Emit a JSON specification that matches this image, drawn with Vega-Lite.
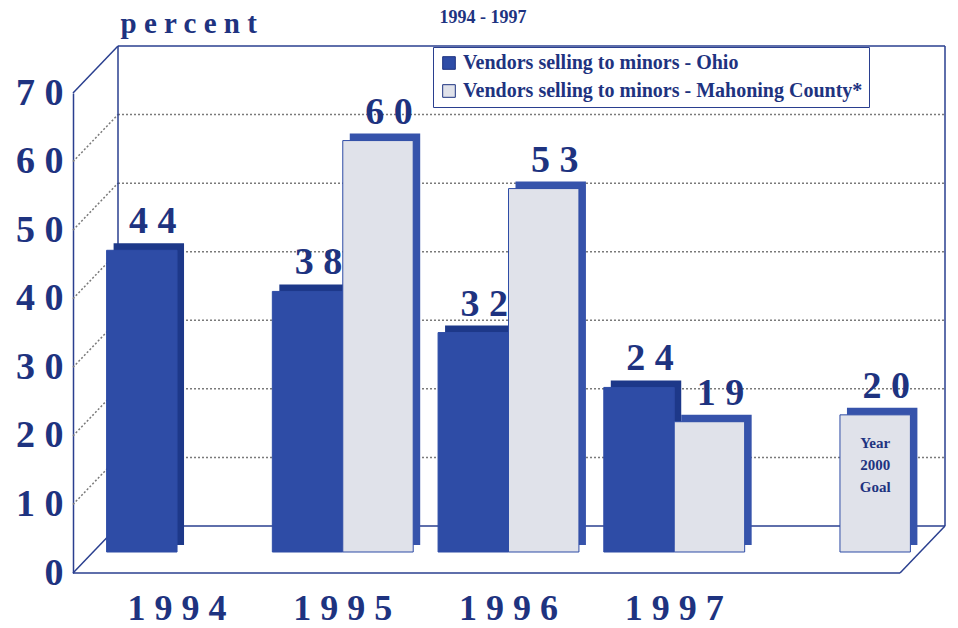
{
  "$schema": "https://vega.github.io/schema/vega-lite/v6.json",
  "width": 827,
  "height": 480,
  "autosize": "none",
  "padding": {"left": 73, "top": 93, "right": 58, "bottom": 55},
  "background": "white",
  "config": {
    "view": {"stroke": null},
    "font": "Liberation Serif"
  },
  "title": {
    "text": "1994 - 1997",
    "anchor": "start",
    "dx": 424,
    "offset": 0,
    "dy": 32,
    "baseline": "alphabetic",
    "font": "Liberation Serif",
    "fontSize": 18,
    "fontWeight": "bold",
    "color": "#1e3380"
  },
  "datasets": {
    "bars": [
      {"year": "1994", "series": "Vendors selling to minors - Ohio", "value": 44},
      {"year": "1995", "series": "Vendors selling to minors - Ohio", "value": 38},
      {"year": "1995", "series": "Vendors selling to minors - Mahoning County*", "value": 60},
      {"year": "1996", "series": "Vendors selling to minors - Ohio", "value": 32},
      {"year": "1996", "series": "Vendors selling to minors - Mahoning County*", "value": 53},
      {"year": "1997", "series": "Vendors selling to minors - Ohio", "value": 24},
      {"year": "1997", "series": "Vendors selling to minors - Mahoning County*", "value": 19},
      {"year": "2000", "series": "Vendors selling to minors - Mahoning County*", "value": 20, "note": "Year 2000 Goal"}
    ],
    "gridlines": [{"v": 10}, {"v": 20}, {"v": 30}, {"v": 40}, {"v": 50}, {"v": 60}],
    "one": [{}]
  },
  "resolve": {"scale": {"x": "independent"}},
  "layer": [
    {
      "data": {"name": "gridlines"},
      "mark": {"type": "rule", "color": "#7a7a7a", "strokeDash": [2, 2], "strokeWidth": 1.5, "xOffset": 45, "x2Offset": 45, "yOffset": -47},
      "encoding": {
        "x": {"datum": 0, "type": "quantitative", "scale": {"domain": [0, 1]}, "axis": null},
        "x2": {"datum": 1},
        "y": {
          "field": "v", "type": "quantitative",
          "scale": {"domain": [0, 70], "nice": false},
          "axis": {
            "title": "p e r c e n t",
            "titleAngle": 0,
            "titleAlign": "left",
            "titleBaseline": "alphabetic",
            "titleX": 47,
            "titleY": -61,
            "titleFont": "Liberation Serif",
            "titleFontWeight": "bold",
            "titleFontSize": 29,
            "titleColor": "#1e3380",
            "values": [0, 10, 20, 30, 40, 50, 60, 70],
            "labelExpr": "join(split(datum.label, ''), ' ')",
            "labelFont": "Liberation Serif",
            "labelFontWeight": "bold",
            "labelFontSize": 38,
            "labelColor": "#1e3380",
            "labelPadding": 10,
            "labelBaseline": "middle",
            "ticks": false,
            "tickSize": 0,
            "domainColor": "#2a3f8f",
            "domainWidth": 1.5,
            "grid": false
          }
        }
      }
    },
    {
      "data": {"name": "gridlines"},
      "mark": {"type": "rule", "color": "#7a7a7a", "strokeDash": [2, 2], "strokeWidth": 1.5, "x2Offset": 45, "y2Offset": -47},
      "encoding": {
        "x": {"datum": 0, "type": "quantitative", "scale": {"domain": [0, 1]}, "axis": null},
        "x2": {"datum": 0},
        "y": {"field": "v", "type": "quantitative"},
        "y2": {"field": "v"}
      }
    },
    {
      "data": {"name": "one"},
      "mark": {"type": "rule", "color": "#2a3f8f", "strokeWidth": 1.5, "xOffset": 45, "x2Offset": 45, "yOffset": -47, "y2Offset": -47},
      "encoding": {
        "x": {"datum": 0, "type": "quantitative", "scale": {"domain": [0, 1]}, "axis": null},
        "x2": {"datum": 0},
        "y": {"datum": 0, "type": "quantitative"},
        "y2": {"datum": 70}
      }
    },
    {
      "data": {"name": "one"},
      "mark": {"type": "rule", "color": "#2a3f8f", "strokeWidth": 1.5, "xOffset": 45, "x2Offset": 45, "yOffset": -47, "y2Offset": -47},
      "encoding": {
        "x": {"datum": 1, "type": "quantitative", "scale": {"domain": [0, 1]}, "axis": null},
        "x2": {"datum": 1},
        "y": {"datum": 0, "type": "quantitative"},
        "y2": {"datum": 70}
      }
    },
    {
      "data": {"name": "one"},
      "mark": {"type": "rule", "color": "#2a3f8f", "strokeWidth": 1.5, "xOffset": 45, "x2Offset": 45, "yOffset": -47, "y2Offset": -47},
      "encoding": {
        "x": {"datum": 0, "type": "quantitative", "scale": {"domain": [0, 1]}, "axis": null},
        "x2": {"datum": 1},
        "y": {"datum": 70, "type": "quantitative"},
        "y2": {"datum": 70}
      }
    },
    {
      "data": {"name": "one"},
      "mark": {"type": "rule", "color": "#2a3f8f", "strokeWidth": 1.5, "xOffset": 45, "x2Offset": 45, "yOffset": -47, "y2Offset": -47},
      "encoding": {
        "x": {"datum": 0, "type": "quantitative", "scale": {"domain": [0, 1]}, "axis": null},
        "x2": {"datum": 1},
        "y": {"datum": 0, "type": "quantitative"},
        "y2": {"datum": 0}
      }
    },
    {
      "data": {"name": "one"},
      "mark": {"type": "rule", "color": "#2a3f8f", "strokeWidth": 1.5, "x2Offset": 45, "y2Offset": -47},
      "encoding": {
        "x": {"datum": 0, "type": "quantitative", "scale": {"domain": [0, 1]}, "axis": null},
        "x2": {"datum": 0},
        "y": {"datum": 70, "type": "quantitative"},
        "y2": {"datum": 70}
      }
    },
    {
      "data": {"name": "one"},
      "mark": {"type": "rule", "color": "#2a3f8f", "strokeWidth": 1.5, "x2Offset": 45, "y2Offset": -47},
      "encoding": {
        "x": {"datum": 0, "type": "quantitative", "scale": {"domain": [0, 1]}, "axis": null},
        "x2": {"datum": 0},
        "y": {"datum": 0, "type": "quantitative"},
        "y2": {"datum": 0}
      }
    },
    {
      "data": {"name": "one"},
      "mark": {"type": "rule", "color": "#2a3f8f", "strokeWidth": 1.5, "x2Offset": 45, "y2Offset": -47},
      "encoding": {
        "x": {"datum": 1, "type": "quantitative", "scale": {"domain": [0, 1]}, "axis": null},
        "x2": {"datum": 1},
        "y": {"datum": 0, "type": "quantitative"},
        "y2": {"datum": 0}
      }
    },
    {
      "data": {"name": "one"},
      "mark": {"type": "rule", "color": "#2a3f8f", "strokeWidth": 1.5},
      "encoding": {
        "x": {"datum": 0, "type": "quantitative", "scale": {"domain": [0, 1]}, "axis": null},
        "x2": {"datum": 1},
        "y": {"datum": 0, "type": "quantitative"},
        "y2": {"datum": 0}
      }
    },
    {
      "data": {"name": "bars"},
      "mark": {"type": "bar", "yOffset": -28, "y2Offset": -28},
      "encoding": {
        "x": {"field": "year", "type": "nominal", "scale": {"domain": ["1994", "1995", "1996", "1997", "2000"], "range": [29, 856], "paddingInner": 0.15, "paddingOuter": 0.07}, "axis": null},
        "xOffset": {"field": "series", "type": "nominal", "scale": {"domain": ["Vendors selling to minors - Ohio", "Vendors selling to minors - Mahoning County*"], "paddingInner": 0, "paddingOuter": 0}},
        "y": {"field": "value", "type": "quantitative"},
        "fill": {"condition": {"test": "datum.series == 'Vendors selling to minors - Ohio'", "value": "#1d3889"}, "value": "#3653ab"}
      }
    },
    {
      "data": {"name": "bars"},
      "mark": {"type": "bar", "yOffset": -21, "y2Offset": -21, "stroke": "#2e4ca6", "strokeWidth": 1},
      "encoding": {
        "x": {
          "field": "year", "type": "nominal",
          "scale": {"domain": ["1994", "1995", "1996", "1997", "2000"], "range": [22, 849], "paddingInner": 0.15, "paddingOuter": 0.07},
          "axis": {
            "title": null,
            "labelExpr": "datum.label == '2000' ? '' : join(split(datum.label, ''), ' ')",
            "labelAngle": 0,
            "labelFont": "Liberation Serif",
            "labelFontWeight": "bold",
            "labelFontSize": 36,
            "labelColor": "#1e3380",
            "labelBaseline": "alphabetic",
            "labelPadding": 46,
            "ticks": false,
            "tickSize": 0,
            "domain": false,
            "grid": false
          }
        },
        "xOffset": {"field": "series", "type": "nominal", "scale": {"domain": ["Vendors selling to minors - Ohio", "Vendors selling to minors - Mahoning County*"], "paddingInner": 0, "paddingOuter": 0}},
        "y": {"field": "value", "type": "quantitative"},
        "color": {
          "field": "series", "type": "nominal",
          "scale": {"domain": ["Vendors selling to minors - Ohio", "Vendors selling to minors - Mahoning County*"], "range": ["#2e4ca6", "#e0e2ea"]},
          "legend": {
            "title": null,
            "orient": "none",
            "legendX": 360,
            "legendY": -46,
            "direction": "vertical",
            "strokeColor": "#2a3f8f",
            "fillColor": "white",
            "padding": 6,
            "symbolType": "square",
            "symbolSize": 160,
            "symbolStrokeColor": "#1e3380",
            "symbolStrokeWidth": 1,
            "labelFont": "Liberation Serif",
            "labelFontWeight": "bold",
            "labelFontSize": 20,
            "labelColor": "#1e3380",
            "labelLimit": 700,
            "rowPadding": 8
          }
        }
      }
    },
    {
      "data": {"name": "bars"},
      "mark": {"type": "text", "text": {"expr": "join(split(datum.value + '', ''), ' ')"}, "yOffset": -38, "baseline": "alphabetic", "font": "Liberation Serif", "fontWeight": "bold", "fontSize": 38, "color": "#1e3380"},
      "encoding": {
        "x": {"field": "year", "type": "nominal", "scale": {"domain": ["1994", "1995", "1996", "1997", "2000"], "range": [33, 860], "paddingInner": 0.15, "paddingOuter": 0.07}, "axis": null},
        "xOffset": {"field": "series", "type": "nominal", "scale": {"domain": ["Vendors selling to minors - Ohio", "Vendors selling to minors - Mahoning County*"], "paddingInner": 0, "paddingOuter": 0}},
        "y": {"field": "value", "type": "quantitative"}
      }
    },
    {
      "data": {"name": "bars"},
      "transform": [{"filter": "datum.note != null"}],
      "mark": {"type": "text", "lineBreak": " ", "lineHeight": 22, "yOffset": 0, "baseline": "top", "font": "Liberation Serif", "fontWeight": "bold", "fontSize": 15, "color": "#1e3380"},
      "encoding": {
        "x": {"field": "year", "type": "nominal", "scale": {"domain": ["1994", "1995", "1996", "1997", "2000"], "range": [22, 849], "paddingInner": 0.15, "paddingOuter": 0.07}, "axis": null},
        "xOffset": {"field": "series", "type": "nominal", "scale": {"domain": ["Vendors selling to minors - Ohio", "Vendors selling to minors - Mahoning County*"], "paddingInner": 0, "paddingOuter": 0}},
        "y": {"field": "value", "type": "quantitative"},
        "text": {"field": "note"}
      }
    }
  ]
}
